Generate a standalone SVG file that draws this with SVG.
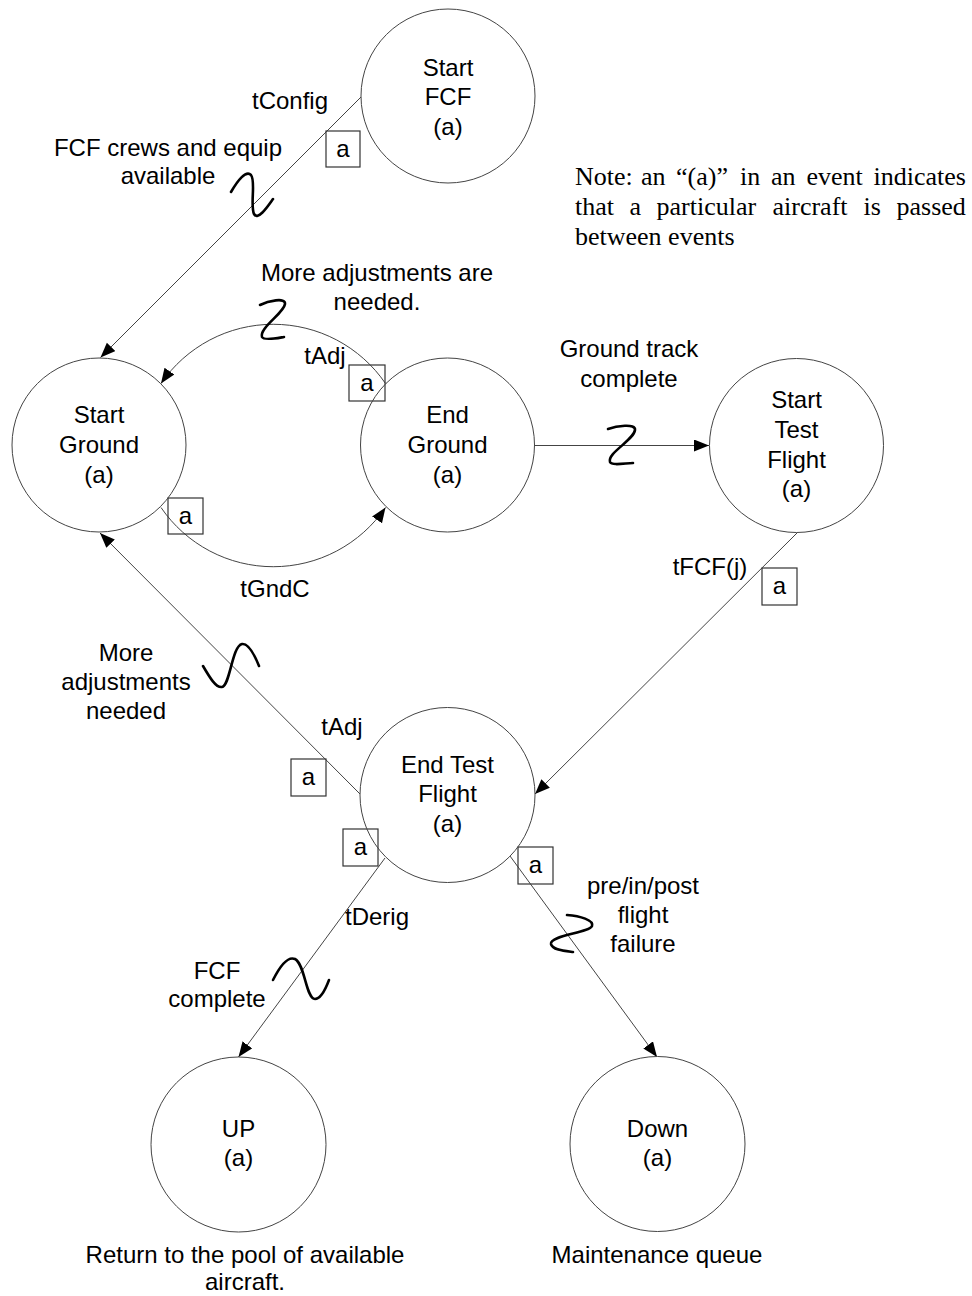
<svg xmlns="http://www.w3.org/2000/svg" width="972" height="1296" viewBox="0 0 972 1296">
<style>
  .node { fill: none; stroke: #444; stroke-width: 1; }
  .lbl { font-family: "Liberation Sans", Arial, sans-serif; font-size: 24px; fill: #000; text-anchor: middle; }
  .edge { fill: none; stroke: #444; stroke-width: 1; marker-end: url(#arrow); }
  .plain { fill: none; stroke: #444; stroke-width: 1; }
  .squig { fill: none; stroke: #000; stroke-width: 2.6; stroke-linecap: round; stroke-linejoin: round; }
  .box { fill: none; stroke: #333; stroke-width: 1.2; }
  .note { font-family: "Liberation Serif", "Times New Roman", serif; font-size: 26px; fill: #000; }
</style>
<defs>
  <marker id="arrow" markerUnits="userSpaceOnUse" markerWidth="16" markerHeight="14" refX="15" refY="6" orient="auto">
    <path d="M0,0 L15,6 L0,12 z" fill="#000"/>
  </marker>
</defs>

<g id="connectors">
  <line class="edge" x1="361" y1="97" x2="100.5" y2="357.5"/>
  <path class="edge" d="M385.5,383.5 A136,136 0 0 0 161,383.5"/>
  <path class="edge" d="M161,507.5 A136,136 0 0 0 385.5,507.5"/>
  <line class="edge" x1="534.5" y1="445.5" x2="709" y2="445.5"/>
  <line class="edge" x1="797" y1="533" x2="535" y2="794"/>
  <line class="edge" x1="360" y1="794" x2="100" y2="533"/>
  <line class="edge" x1="385" y1="858" x2="238.5" y2="1057"/>
  <line class="edge" x1="510" y1="856" x2="657" y2="1057"/>

  <path class="squig" d="M231,192 C238,180 246,170 251,175 C256,181 250,205 254,214 C258,221 268,206 273,199"/>
  <path class="squig" d="M260,305 C268,301 286,297 285,304 C284,313 259,328 262,337 C264,341 278,338 284,337"/>
  <path class="squig" d="M608,429 C616,426 636,423 635,430 C634,440 607,453 610,462 C612,466 626,463 633,463"/>
  <path class="squig" d="M203,666 C210,678 216,688 222,687 C230,686 232,646 242,644 C249,643 255,656 259,666"/>
  <path class="squig" d="M273,980 C280,966 288,956 295,959 C305,964 306,999 315,999 C321,999 326,988 329,980"/>
  <path class="squig" d="M567,915 C580,916 594,920 592,926 C589,933 550,935 551,944 C552,950 565,951 573,952"/>

  <rect class="box" x="326" y="131" width="34" height="36"/>
  <text class="lbl" x="343" y="157">a</text>
  <rect class="box" x="349" y="365" width="36" height="36"/>
  <text class="lbl" x="367" y="391">a</text>
  <rect class="box" x="168" y="498" width="35" height="36"/>
  <text class="lbl" x="185.5" y="524">a</text>
  <rect class="box" x="762" y="568" width="35" height="37"/>
  <text class="lbl" x="779.5" y="594">a</text>
  <rect class="box" x="291" y="759" width="35" height="37"/>
  <text class="lbl" x="308.5" y="785">a</text>
  <rect class="box" x="343" y="829" width="35" height="37"/>
  <text class="lbl" x="360.5" y="855">a</text>
  <rect class="box" x="518" y="847" width="35" height="37"/>
  <text class="lbl" x="535.5" y="873">a</text>

  <text class="lbl" x="290" y="109">tConfig</text>
  <text class="lbl" x="168" y="156">FCF crews and equip</text>
  <text class="lbl" x="168" y="184">available</text>
  <text class="lbl" x="377" y="281">More adjustments are</text>
  <text class="lbl" x="377" y="310">needed.</text>
  <text class="lbl" x="325" y="364">tAdj</text>
  <text class="lbl" x="275" y="597">tGndC</text>
  <text class="lbl" x="629" y="357">Ground track</text>
  <text class="lbl" x="629" y="387">complete</text>
  <text class="lbl" x="710" y="575">tFCF(j)</text>
  <text class="lbl" x="126" y="661">More</text>
  <text class="lbl" x="126" y="690">adjustments</text>
  <text class="lbl" x="126" y="719">needed</text>
  <text class="lbl" x="342" y="735">tAdj</text>
  <text class="lbl" x="377" y="925">tDerig</text>
  <text class="lbl" x="217" y="979">FCF</text>
  <text class="lbl" x="217" y="1007">complete</text>
  <text class="lbl" x="643" y="894">pre/in/post</text>
  <text class="lbl" x="643" y="923">flight</text>
  <text class="lbl" x="643" y="952">failure</text>
</g>

<g id="start-fcf">
  <circle class="node" cx="448" cy="96" r="87"/>
  <text class="lbl" x="448" y="76">Start</text>
  <text class="lbl" x="448" y="105">FCF</text>
  <text class="lbl" x="448" y="135">(a)</text>
</g>

<g id="start-ground">
  <circle class="node" cx="99" cy="445" r="87"/>
  <text class="lbl" x="99" y="423">Start</text>
  <text class="lbl" x="99" y="453">Ground</text>
  <text class="lbl" x="99" y="483">(a)</text>
</g>

<g id="end-ground">
  <circle class="node" cx="447.5" cy="445" r="87"/>
  <text class="lbl" x="447.5" y="423">End</text>
  <text class="lbl" x="447.5" y="453">Ground</text>
  <text class="lbl" x="447.5" y="483">(a)</text>
</g>

<g id="start-test-flight">
  <circle class="node" cx="796.5" cy="445.5" r="87"/>
  <text class="lbl" x="796.5" y="408">Start</text>
  <text class="lbl" x="796.5" y="438">Test</text>
  <text class="lbl" x="796.5" y="468">Flight</text>
  <text class="lbl" x="796.5" y="497">(a)</text>
</g>

<g id="end-test-flight">
  <circle class="node" cx="447.5" cy="795" r="87.5"/>
  <text class="lbl" x="447.5" y="773">End Test</text>
  <text class="lbl" x="447.5" y="802">Flight</text>
  <text class="lbl" x="447.5" y="832">(a)</text>
</g>

<g id="up">
  <circle class="node" cx="238.5" cy="1144.5" r="87.5"/>
  <text class="lbl" x="238.5" y="1137">UP</text>
  <text class="lbl" x="238.5" y="1166">(a)</text>
  <text class="lbl" x="245" y="1263">Return to the pool of available</text>
  <text class="lbl" x="245" y="1290">aircraft.</text>
</g>

<g id="down">
  <circle class="node" cx="657.5" cy="1144" r="87.5"/>
  <text class="lbl" x="657.5" y="1137">Down</text>
  <text class="lbl" x="657.5" y="1166">(a)</text>
  <text class="lbl" x="657" y="1263">Maintenance queue</text>
</g>

<g id="note">
  <text class="note" y="185"><tspan x="575">Note:</tspan><tspan x="641">an</tspan><tspan x="676">“(a)”</tspan><tspan x="740">in</tspan><tspan x="771">an</tspan><tspan x="806.5">event</tspan><tspan x="873.5">indicates</tspan></text>
  <text class="note" y="215"><tspan x="575">that</tspan><tspan x="629.5">a</tspan><tspan x="656.5">particular</tspan><tspan x="772.5">aircraft</tspan><tspan x="863.5">is</tspan><tspan x="896.5">passed</tspan></text>
  <text class="note" x="575" y="245">between events</text>
</g>
</svg>
